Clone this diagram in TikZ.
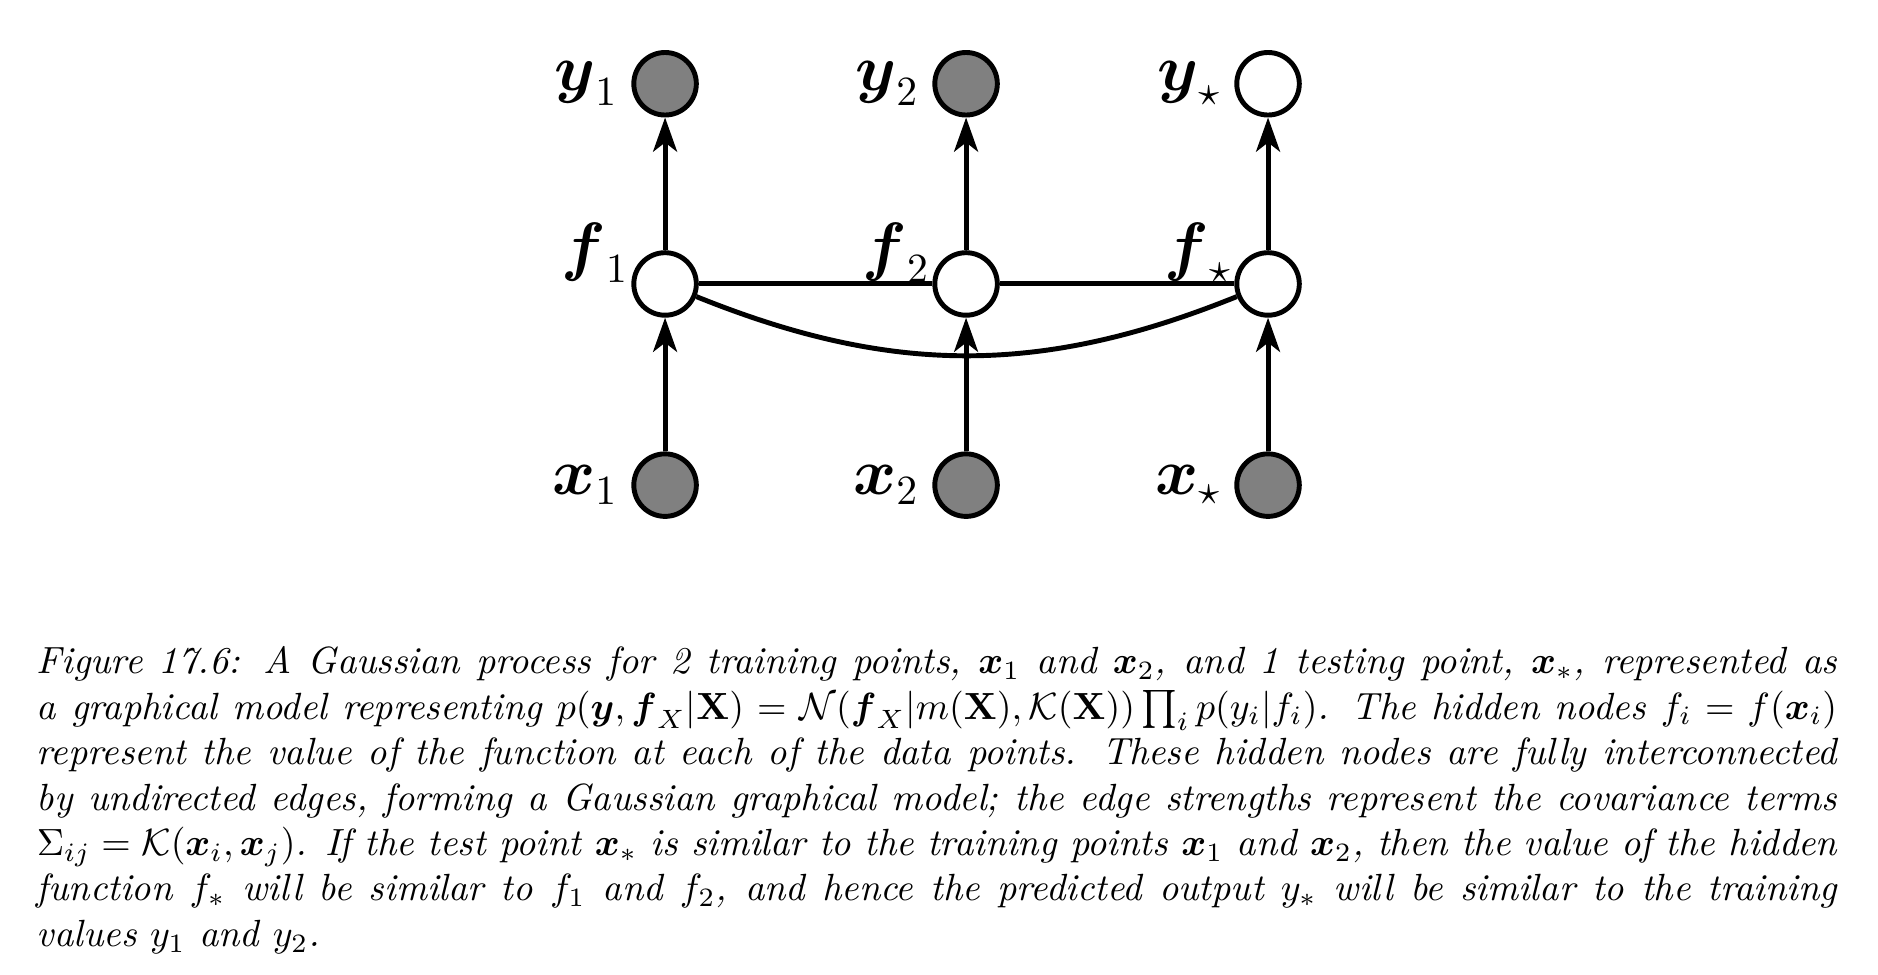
\documentclass[tikz,border=0pt]{standalone}
\usepackage{amsmath,amssymb}
\usetikzlibrary{arrows.meta}
\definecolor{obsgray}{RGB}{128,128,128}

\begin{document}
\begin{tikzpicture}[
    var/.style={circle, draw, line width=1.3pt, minimum size=0.58cm, inner sep=0pt},
    latent/.style={var, fill=white},
    observed/.style={var, fill=obsgray},
    lab/.style={font=\fontsize{16}{19}\selectfont},
    flab/.style={lab, xshift=0.1cm, yshift=0.29cm},
    arr/.style={line width=1.3pt, -{Stealth[length=9pt,width=6.3pt,inset=2.4pt]}},
    link/.style={line width=1.3pt}]
  \useasboundingbox (0,0) rectangle (17.42,9.035);
  % outputs
  \node[observed, label={[lab]left:$\boldsymbol{y}_1$}] (y1) at (6.169,8.258) {};
  \node[observed, label={[lab]left:$\boldsymbol{y}_2$}] (y2) at (8.961,8.258) {};
  \node[latent, label={[lab]left:$\boldsymbol{y}_\star$}] (ys) at (11.762,8.258) {};
  % hidden function values
  \node[latent, label={[flab]left:$\boldsymbol{f}_1$}] (f1) at (6.169,6.401) {};
  \node[latent, label={[flab]left:$\boldsymbol{f}_2$}] (f2) at (8.961,6.401) {};
  \node[latent, label={[flab]left:$\boldsymbol{f}_\star$}] (fs) at (11.762,6.401) {};
  % inputs
  \node[observed, label={[lab]left:$\boldsymbol{x}_1$}] (x1) at (6.169,4.535) {};
  \node[observed, label={[lab]left:$\boldsymbol{x}_2$}] (x2) at (8.961,4.535) {};
  \node[observed, label={[lab]left:$\boldsymbol{x}_\star$}] (xs) at (11.762,4.535) {};
  % undirected links between hidden nodes
  \draw[link] (f1) -- (f2);
  \draw[link] (f2) -- (fs);
  \draw[link] (f1) to[bend right=22] (fs);
  % directed edges
  \draw[arr] (x1) -- (f1);
  \draw[arr] (x2) -- (f2);
  \draw[arr] (xs) -- (fs);
  \draw[arr] (f1) -- (y1);
  \draw[arr] (f2) -- (y2);
  \draw[arr] (fs) -- (ys);
  % caption
  \node[anchor=north west, text width=16.70cm, align=justify, inner sep=0pt, font=\itshape] (caption) at (0.334,3.045) {%
    Figure 17.6: A Gaussian process for 2 training points, $\boldsymbol{x}_1$ and $\boldsymbol{x}_2$, and 1 testing point, $\boldsymbol{x}_*$, represented as\linebreak
    a graphical model representing $p(\boldsymbol{y},\boldsymbol{f}_X|\mathbf{X})=\mathcal{N}(\boldsymbol{f}_X|m(\mathbf{X}),\mathcal{K}(\mathbf{X}))\prod_i p(y_i|f_i)$. The hidden nodes $f_i = f(\boldsymbol{x}_i)$\linebreak
    represent the value of the function at each of the data points. These hidden nodes are fully interconnected\linebreak
    by undirected edges, forming a Gaussian graphical model; the edge strengths represent the covariance terms\linebreak
    $\Sigma_{ij}=\mathcal{K}(\boldsymbol{x}_i,\boldsymbol{x}_j)$. If the test point $\boldsymbol{x}_*$ is similar to the training points $\boldsymbol{x}_1$ and $\boldsymbol{x}_2$, then the value of the hidden\linebreak
    function $f_*$ will be similar to $f_1$ and $f_2$, and hence the predicted output $y_*$ will be similar to the training\linebreak
    values $y_1$ and $y_2$.};
\end{tikzpicture}
\end{document}
